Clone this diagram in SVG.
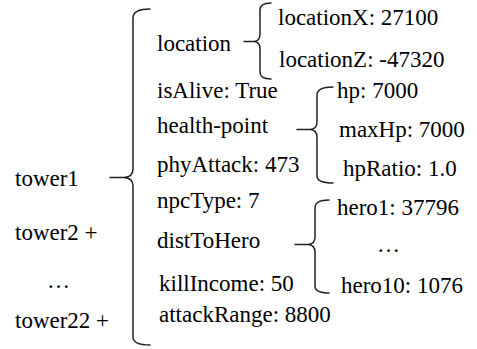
<svg xmlns="http://www.w3.org/2000/svg" width="477" height="349" viewBox="0 0 477 349" font-family="'Liberation Serif', serif" font-size="23">
<rect width="477" height="349" fill="#fff"/>
<g id="connectors" fill="none" stroke="#222" stroke-width="1.5" stroke-linecap="round" stroke-linejoin="round">
<path d="M150,9 Q133,9 133,18 L133,169 Q133,177 124,177.5 L110,177.5 M124,177.5 Q133,178 133,186 L133,337 Q133,345 150,345"/>
<path d="M271,3 Q260,3 260,10 L260,34 Q260,41 254,41.5 L244,41.5 M254,41.5 Q260,42 260,49 L260,72 Q260,79 271,79"/>
<path d="M333,87 Q317,87 317,95 L317,122 Q317,129 310,129.5 L297,129.5 M310,129.5 Q317,130 317,137 L317,176 Q317,183 333,183"/>
<path d="M329,200 Q315,200 315,208 L315,237 Q315,244 308,244.5 L295,244.5 M308,244.5 Q315,245 315,252 L315,286 Q315,293 329,293"/>
</g>
<g id="tower1"><text x="15" y="186" font-family="'Liberation Serif'">tower1</text></g>
<g id="tower2"><text x="15" y="240" font-family="'Liberation Serif'">tower2 +</text></g>
<g id="tower-ellipsis"><text x="47" y="288" font-family="'Liberation Serif'">…</text></g>
<g id="tower22"><text x="15" y="328" font-family="'Liberation Serif'">tower22 +</text></g>
<g id="location"><text x="157" y="51" font-family="'Liberation Serif'">location</text></g>
<g id="locationX"><text x="278" y="25" font-family="'Liberation Serif'">locationX: 27100</text></g>
<g id="locationZ"><text x="279" y="67" font-family="'Liberation Serif'">locationZ: -47320</text></g>
<g id="isAlive"><text x="157" y="98" font-family="'Liberation Serif'">isAlive: True</text></g>
<g id="health-point"><text x="157" y="133" font-family="'Liberation Serif'">health-point</text></g>
<g id="hp"><text x="337" y="98" font-family="'Liberation Serif'">hp: 7000</text></g>
<g id="maxHp"><text x="339" y="137" font-family="'Liberation Serif'">maxHp: 7000</text></g>
<g id="hpRatio"><text x="343" y="176" font-family="'Liberation Serif'">hpRatio: 1.0</text></g>
<g id="phyAttack"><text x="157" y="172" font-family="'Liberation Serif'">phyAttack: 473</text></g>
<g id="npcType"><text x="157" y="208" font-family="'Liberation Serif'">npcType: 7</text></g>
<g id="distToHero"><text x="157" y="248" font-family="'Liberation Serif'">distToHero</text></g>
<g id="hero1"><text x="337" y="215" font-family="'Liberation Serif'">hero1: 37796</text></g>
<g id="hero-ellipsis"><text x="377" y="252" font-family="'Liberation Serif'">…</text></g>
<g id="hero10"><text x="341" y="293" font-family="'Liberation Serif'">hero10: 1076</text></g>
<g id="killIncome"><text x="159" y="291" font-family="'Liberation Serif'">killIncome: 50</text></g>
<g id="attackRange"><text x="159" y="322" font-family="'Liberation Serif'">attackRange: 8800</text></g>
</svg>
